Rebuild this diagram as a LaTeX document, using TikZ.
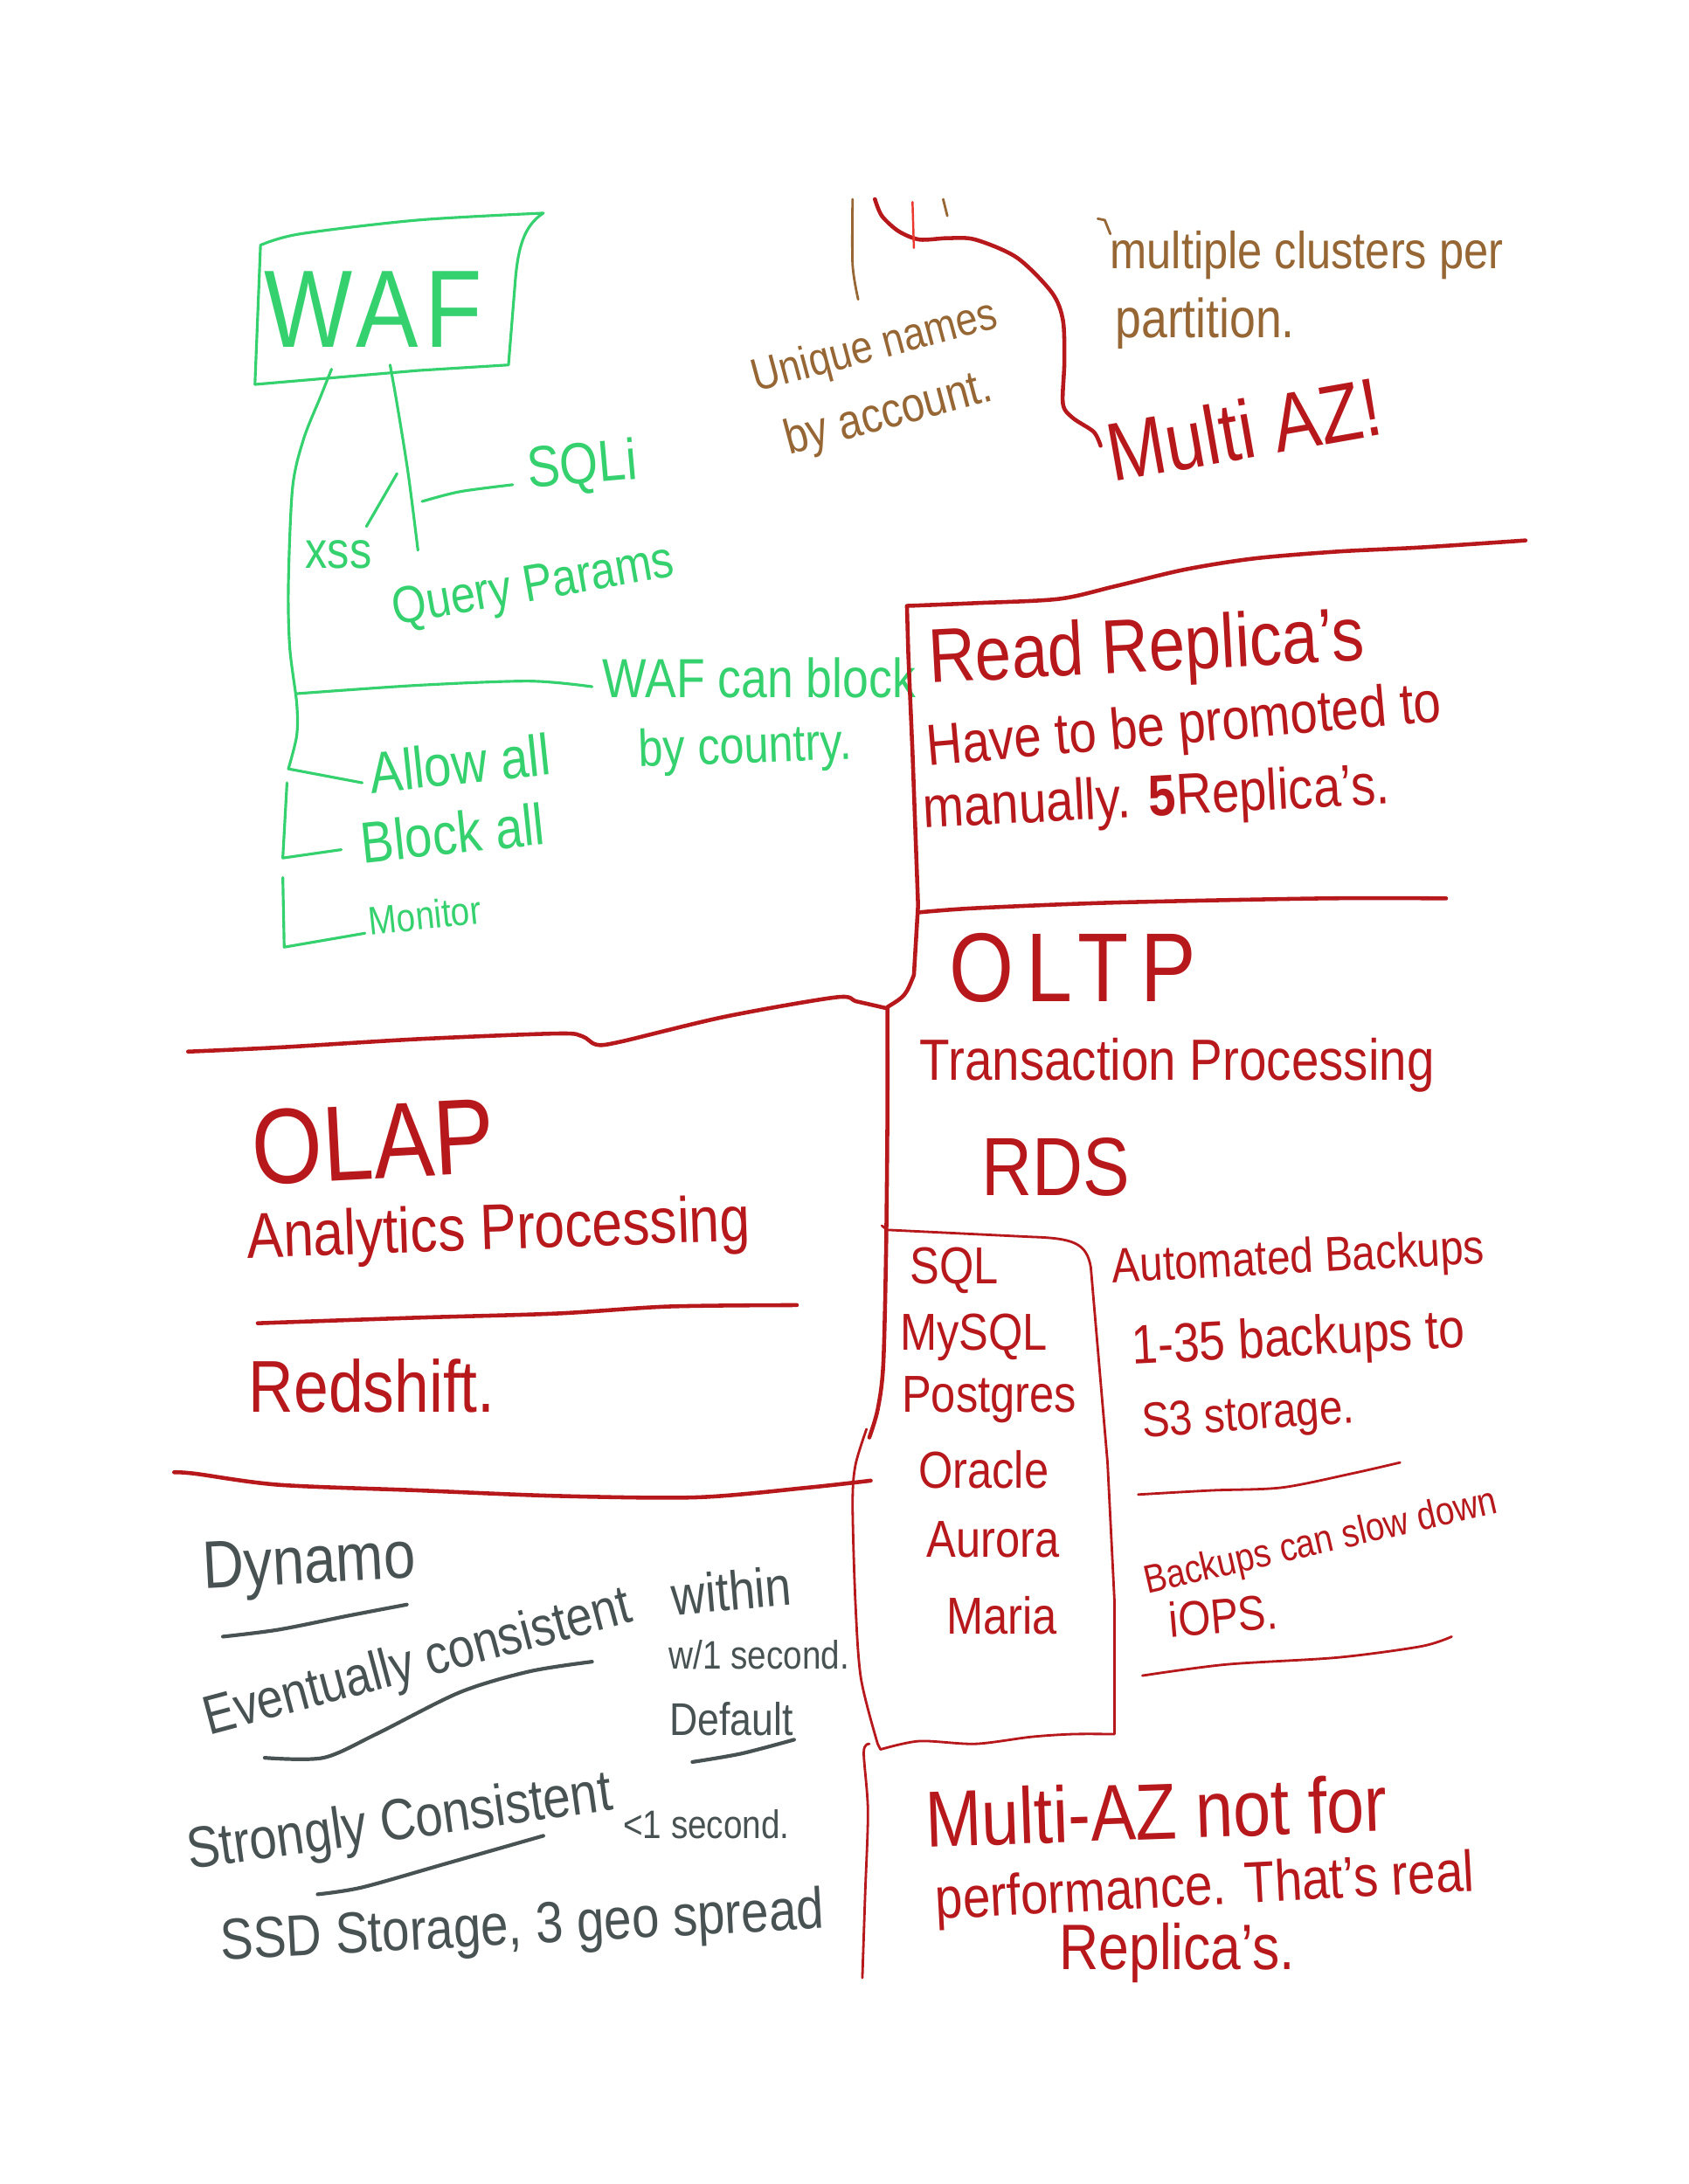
\documentclass[tikz,border=0pt]{standalone}
\usepackage{fontspec}
\setmainfont[FakeStretch=0.85]{Liberation Sans}
\usetikzlibrary{positioning}
\definecolor{wafgreen}{RGB}{52,209,110}
\definecolor{inkbrown}{RGB}{150,102,52}
\definecolor{inkred}{RGB}{183,24,28}
\definecolor{tickred}{RGB}{235,55,45}
\definecolor{inkgrey}{RGB}{72,82,82}
\newcommand{\inkfont}[1]{\fontsize{#1}{#1}\selectfont}

\begin{document}
\begin{tikzpicture}[x=0.016cm,y=-0.016cm,line cap=round,line join=round,
    note/.style={inner sep=0pt,anchor=center},
    grnnote/.style={note,text=wafgreen},
    brnnote/.style={note,text=inkbrown},
    rednote/.style={note,text=inkred},
    greynote/.style={note,text=inkgrey},
    grnpen/.style={draw=wafgreen,line width=0.9pt},
    brnpen/.style={draw=inkbrown,line width=0.8pt},
    redpen/.style={draw=inkred,line width=1.3pt},
    thinred/.style={draw=inkred,line width=0.8pt},
    greypen/.style={draw=inkgrey,line width=1.2pt}]
\fill[white] (0,0) rectangle (1212,1568);
\useasboundingbox (0,0) rectangle (1212,1568);

\node[grnnote,font=\inkfont{36}\addfontfeature{LetterSpace=6}] (waf) at (268,222) {WAF};
\node[grnnote,font=\inkfont{19},rotate=5] (sqli) at (418,336) {SQLi};
\node[grnnote,font=\inkfont{17}] (xss) at (243,398) {xss};
\node[grnnote,font=\inkfont{17},rotate=10] (query) at (383,422) {Query Params};
\node[grnnote,font=\inkfont{18}] (wafblock) at (545,487) {WAF can block};
\node[grnnote,font=\inkfont{17},rotate=2] (bycountry) at (535,538) {by country.};
\node[grnnote,font=\inkfont{19},rotate=6] (allowall) at (330,548) {Allow all};
\node[grnnote,font=\inkfont{19},rotate=6] (blockall) at (325,598) {Block all};
\node[grnnote,font=\inkfont{13},rotate=6] (monitor) at (305,657) {Monitor};

\draw[grnpen] plot[smooth] coordinates {(187,176) (215,168) (300,158) (390,153)}
  .. controls (376,162) and (372,178) .. (370,200) -- (365,262)
  -- (300,266) -- (183,276) -- cycle;
\draw[grnpen] plot[smooth] coordinates {(238,265) (230,285) (218,315) (210,350) (207,420) (208,465) (213,505) (213,528) (207,552)} -- (260,562);
\draw[grnpen] (206,562) -- (203,616) -- (245,610);
\draw[grnpen] (203,630) -- (204,680) -- (262,670);
\draw[grnpen] plot[smooth] coordinates {(280,262) (285,290) (293,340) (300,395)};
\draw[grnpen] plot[smooth] coordinates {(303,360) (330,353) (368,348)};
\draw[grnpen] (263,378) -- (285,340);
\draw[grnpen] plot[smooth] coordinates {(213,498) (300,492) (380,489) (425,493)};

\node[brnnote,font=\inkfont{15},rotate=15] (unique) at (628,250) {Unique names};
\node[brnnote,font=\inkfont{16},rotate=15] (byaccount) at (638,298) {by account.};
\node[brnnote,font=\inkfont{17}] (clusters) at (938,183) {multiple clusters per};
\node[brnnote,font=\inkfont{18}] (partition) at (865,232) {partition.};
\draw[brnpen] plot[smooth] coordinates {(612,143) (612,190) (616,215)};
\draw[brnpen] (788,157) -- (793,158) -- (797,168);
\draw[brnpen] (677,143) -- (680,155);

\draw[redpen] plot[smooth] coordinates {(628,143) (633,155) (645,166) (660,172) (680,171) (700,172) (730,185) (755,210) (763,230) (764,260) (763,290) (770,300) (785,310) (790,320)};
\draw[draw=tickred,line width=0.7pt] (655,145) -- (656,178);
\node[rednote,font=\inkfont{27},rotate=10] (multiaz) at (893,308) {Multi AZ!};

\draw[redpen] plot[smooth] coordinates {(1095,388) (1020,393) (960,396) (900,401) (850,409) (800,421) (760,430) (700,433) (651,435)}
  -- (652,470) -- (655,540) -- (659,650) -- (656,700) .. controls (650,715) .. (637,723);
\draw[redpen] plot[smooth] coordinates {(660,655) (700,652) (800,648) (950,645) (1038,645)};
\node[rednote,font=\inkfont{25},rotate=3] (readrep) at (823,468) {Read Replica's};
\node[rednote,font=\inkfont{19},rotate=5] (promoted) at (850,523) {Have to be promoted to};
\node[rednote,font=\inkfont{19},rotate=3] (manually) at (830,575) {manually. \textbf{5}Replica's.};

\draw[redpen] plot[smooth] coordinates {(135,755) (200,752) (300,746) (400,742) (418,744) (428,750) (445,748) (520,730) (600,716) (615,719) (637,724)};
\draw[redpen] plot[smooth] coordinates {(637,724) (637,800) (636,900) (634,980) (630,1012) (624,1032)};
\node[rednote,font=\inkfont{32}\addfontfeature{LetterSpace=12}] (oltp) at (770,695) {OLTP};
\node[rednote,font=\inkfont{19}] (transproc) at (845,765) {Transaction Processing};
\node[rednote,font=\inkfont{27}] (rds) at (758,838) {RDS};

\node[rednote,font=\inkfont{35},rotate=3] (olap) at (268,820) {OLAP};
\node[rednote,font=\inkfont{21},rotate=2] (analytics) at (358,885) {Analytics Processing};
\draw[redpen] plot[smooth] coordinates {(185,950) (300,946) (400,943) (480,938) (572,937)};
\node[rednote,font=\inkfont{24}] (redshift) at (267,995) {Redshift.};
\draw[redpen] plot[smooth] coordinates {(125,1057) (140,1058) (200,1066) (300,1070) (400,1074) (500,1075) (580,1068) (625,1063)};

\draw[thinred] (633,880) -- (637,883) -- (740,888) .. controls (770,889) and (780,892) .. (783,910)
  -- (795,1050) -- (800,1150) -- (800,1245)
  plot[smooth] coordinates {(800,1245) (770,1245) (740,1247) (700,1252) (660,1250) (632,1256)}
  -- (630,1252) plot[smooth] coordinates {(630,1252) (618,1205) (614,1150) (612,1080) (614,1052) (622,1026)};
\node[rednote,font=\inkfont{17}] (sql) at (685,912) {SQL};
\node[rednote,font=\inkfont{17}] (mysql) at (699,960) {MySQL};
\node[rednote,font=\inkfont{17}] (postgres) at (710,1005) {Postgres};
\node[rednote,font=\inkfont{17}] (oracle) at (706,1055) {Oracle};
\node[rednote,font=\inkfont{17}] (aurora) at (713,1105) {Aurora};
\node[rednote,font=\inkfont{17}] (maria) at (719,1160) {Maria};

\node[rednote,font=\inkfont{16},rotate=3] (autobackup) at (932,905) {Automated Backups};
\node[rednote,font=\inkfont{18},rotate=3] (backupdays) at (932,963) {1-35 backups to};
\node[rednote,font=\inkfont{16},rotate=4] (s3) at (896,1018) {S3 storage.};
\draw[thinred] plot[smooth] coordinates {(817,1073) (870,1070) (920,1068) (970,1058) (1005,1050)};
\node[rednote,font=\inkfont{13},rotate=13] (slowdown) at (948,1108) {Backups can slow down};
\node[rednote,font=\inkfont{16},rotate=5] (iops) at (878,1160) {iOPS.};
\draw[thinred] plot[smooth] coordinates {(820,1203) (880,1195) (960,1190) (1020,1182) (1042,1175)};

\draw[thinred] plot[smooth] coordinates {(624,1252) (620,1258) (623,1300) (621,1360) (619,1420)};
\node[rednote,font=\inkfont{26},rotate=2] (multiaznote) at (830,1300) {Multi-AZ not for};
\node[rednote,font=\inkfont{19},rotate=3] (perf) at (865,1357) {performance. That's real};
\node[rednote,font=\inkfont{21}] (replicas) at (845,1402) {Replica's.};

\node[greynote,font=\inkfont{22},rotate=3] (dynamo) at (222,1125) {Dynamo};
\draw[greypen] plot[smooth] coordinates {(160,1175) (200,1170) (250,1160) (292,1152)};
\node[greynote,font=\inkfont{18},rotate=15] (eventual) at (300,1195) {Eventually consistent};
\draw[greypen] plot[smooth] coordinates {(190,1262) (232,1262) (270,1245) (330,1215) (380,1200) (425,1193)};
\node[greynote,font=\inkfont{18},rotate=5] (within) at (525,1142) {within};
\node[greynote,font=\inkfont{13}] (wone) at (545,1188) {w/1 second.};
\node[greynote,font=\inkfont{15}] (default) at (525,1234) {Default};
\draw[greypen] plot[smooth] coordinates {(497,1265) (532,1259) (570,1249)};
\node[greynote,font=\inkfont{19},rotate=8] (strong) at (287,1310) {Strongly Consistent};
\draw[greypen] plot[smooth] coordinates {(228,1360) (260,1355) (320,1338) (390,1318)};
\node[greynote,font=\inkfont{13}] (lessone) at (507,1310) {<1 second.};
\node[greynote,font=\inkfont{19},rotate=3] (ssd) at (375,1385) {SSD Storage, 3 geo spread};
\end{tikzpicture}
\end{document}
